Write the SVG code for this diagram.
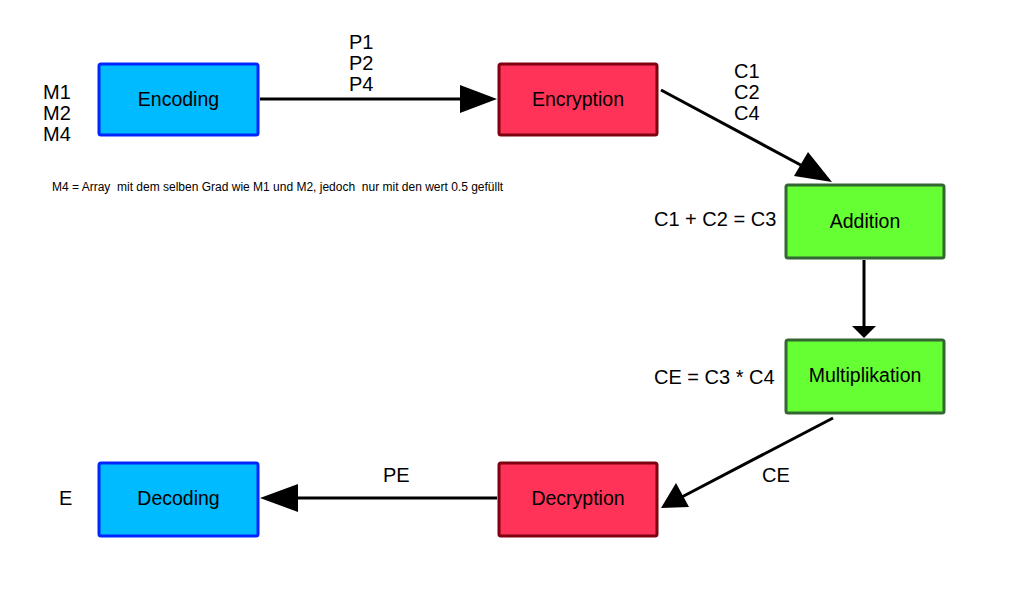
<svg xmlns="http://www.w3.org/2000/svg" width="1024" height="600" viewBox="0 0 1024 600">
<style>
text{font-family:"Liberation Sans",Arial,sans-serif;fill:#000}
.lbl{font-size:20px}
.nl{font-size:19.5px;text-anchor:middle}
.note{font-size:12px}
.blue rect{fill:#00BBFF;stroke:#0026FF;stroke-width:3}
.red rect{fill:#FF3358;stroke:#7F0010;stroke-width:3}
.green rect{fill:#66FF33;stroke:#336633;stroke-width:3}
.conn line{stroke:#000;stroke-width:3}
.conn polygon{fill:#000}
</style>
<rect width="1024" height="600" fill="#fff"/>
<g id="encoding" class="blue"><rect x="99" y="64" width="159" height="71" rx="2"/><text class="nl" x="178.5" y="106">Encoding</text></g>
<g id="encryption" class="red"><rect x="499" y="64" width="158" height="71" rx="2"/><text class="nl" x="578" y="106">Encryption</text></g>
<g id="addition" class="green"><rect x="786" y="185" width="158" height="73" rx="2"/><text class="nl" x="865" y="228">Addition</text></g>
<g id="multiplikation" class="green"><rect x="786" y="340" width="158" height="73" rx="2"/><text class="nl" x="865" y="382">Multiplikation</text></g>
<g id="decryption" class="red"><rect x="499" y="463" width="158" height="73" rx="2"/><text class="nl" x="578" y="505">Decryption</text></g>
<g id="decoding" class="blue"><rect x="99" y="463" width="159" height="73" rx="2"/><text class="nl" x="178.5" y="505">Decoding</text></g>
<g id="connectors" class="conn">
<line x1="260" y1="99" x2="462" y2="99"/><polygon points="497,99 460,85 460,113"/>
<line x1="661" y1="90" x2="810" y2="170"/><polygon points="832,182 794,176 808,152"/>
<line x1="864" y1="260" x2="864" y2="328"/><polygon points="864,338 852,326 876,326"/>
<line x1="833" y1="418" x2="678" y2="499"/><polygon points="661,508 676,483 689,507"/>
<line x1="497" y1="498" x2="296" y2="498"/><polygon points="260,498 298,484 298,512"/>
</g>
<g id="labels" class="lbl">
<text x="43" y="99">M1</text><text x="43" y="120">M2</text><text x="43" y="141">M4</text>
<text x="349" y="49">P1</text><text x="349" y="70">P2</text><text x="349" y="91">P4</text>
<text x="734" y="78">C1</text><text x="734" y="99">C2</text><text x="734" y="120">C4</text>
<text x="654" y="226">C1 + C2 = C3</text>
<text x="654" y="384">CE = C3 * C4</text>
<text x="762" y="482">CE</text>
<text x="383" y="482">PE</text>
<text x="59" y="505">E</text>
</g>
<text class="note" x="52" y="191" xml:space="preserve">M4 = Array  mit dem selben Grad wie M1 und M2, jedoch  nur mit den wert 0.5 gefüllt</text>
</svg>
